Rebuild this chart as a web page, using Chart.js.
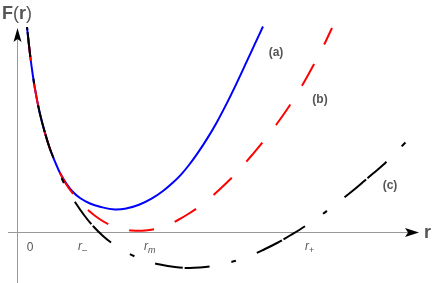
<!DOCTYPE html>
<html>
<head>
<meta charset="utf-8">
<title>F(r)</title>
<script src="https://cdn.jsdelivr.net/npm/chart.js@4.4.1/dist/chart.umd.min.js"></script>
<style>
html,body{margin:0;padding:0;background:#fff;}
#wrap{width:436px;height:283px;}
</style>
</head>
<body>
<div id="wrap"><canvas id="myChart" width="436" height="283"></canvas></div>
<script>
// curve values (r, F)
var rA = [10,13,16,19,23,28,33,39,43,49,55,63,73,83,98,110,122,135,146,156,164,172,181,190,200,210,220,230,238,246];
var fA = [205,178,155.5,137.5,118,99,83,68,59,49,41,34,28.5,25.2,22.5,23.7,27.2,33.6,41,49.4,57.4,67,79.4,93.1,110.1,129.1,149.6,171.1,188.3,205.5];

var rB = [10,13,16,19,23,28,33,39,43,49,55,63,71,81,92,103,115,128,140,151,161,172,183,193,203,213,223,235,247,259,271,283,293,304,315];
var fB = [205,178,155.5,137.5,118,99,83,68,59,48,39.5,30,22,14,7.5,3.5,1.5,1.5,3.5,7,12,18.5,26,34,43,52.5,63,77,91.5,107,124,143,160.5,181,204];

var rC = [10,13,16,19,23,28,33,39,45,51,58,67,76,86,96,106,118,131,143,158,171,183,196,208,223,235,246,260,273,283,295,305,315,326,336,346,356,366,376,386,395];
var fC = [205,178,155.5,137.5,118,99,83,68,53,41.5,30,17,6,-4,-12,-18.5,-24.5,-29.5,-32.5,-35,-36,-35.5,-34,-31.5,-27.5,-23,-18,-11,-3.5,2.5,10.5,17.5,25,33.5,41.5,50,58.5,67,77,87,96.5];

// tick labels under the r axis
var tickText = ['0', 'r-', 'rm', 'r+'];
var tickAt = [13, 66, 132, 293];
var curveNames = ['(a)', '(b)', '(c)'];
var namePos = [[259, 179], [303, 132], [373, 46]];

function pts(xs, ys){
  var out = [];
  for (var i = 0; i < xs.length; i++) out.push({x: xs[i], y: ys[i]});
  return out;
}

var axesPlugin = {
  id: 'axes',
  beforeDatasetsDraw: function(chart){
    var c = chart.ctx, xs = chart.scales.x, ys = chart.scales.y;
    var x0 = xs.getPixelForValue(0), y0 = ys.getPixelForValue(0);
    c.save();
    c.strokeStyle = '#999';
    c.lineWidth = 1;
    c.beginPath();
    c.moveTo(xs.getPixelForValue(-9), y0 + 0.5);
    c.lineTo(xs.getPixelForValue(395), y0 + 0.5);
    c.moveTo(x0 + 0.5, ys.getPixelForValue(-51));
    c.lineTo(x0 + 0.5, ys.getPixelForValue(196));
    c.stroke();
    c.fillStyle = '#000';
    // x arrow
    var tx = xs.getPixelForValue(402);
    c.beginPath();
    c.moveTo(tx, y0 + 0.5);
    c.lineTo(tx - 14, y0 + 0.5 - 4.5);
    c.lineTo(tx - 11, y0 + 0.5);
    c.lineTo(tx - 14, y0 + 0.5 + 4.5);
    c.closePath();
    c.fill();
    // y arrow
    var ty = ys.getPixelForValue(204);
    c.beginPath();
    c.moveTo(x0 + 0.5, ty);
    c.lineTo(x0 + 0.5 - 4, ty + 14);
    c.lineTo(x0 + 0.5, ty + 11);
    c.lineTo(x0 + 0.5 + 4, ty + 14);
    c.closePath();
    c.fill();
    c.restore();
  },
  afterDatasetsDraw: function(chart){
    var c = chart.ctx, xs = chart.scales.x, ys = chart.scales.y;
    var y0 = ys.getPixelForValue(0);
    c.save();
    c.fillStyle = '#555';
    c.textBaseline = 'alphabetic';
    // F(r)
    var x = 2, y = 19;
    c.font = 'bold 18px "Liberation Sans", Arial, sans-serif';
    c.fillText('F', x, y); x += c.measureText('F').width;
    c.font = '18px "Liberation Sans", Arial, sans-serif';
    c.fillText('(', x, y); x += c.measureText('(').width;
    c.font = 'bold 18px "Liberation Sans", Arial, sans-serif';
    c.fillText('r', x, y); x += c.measureText('r').width;
    c.font = '18px "Liberation Sans", Arial, sans-serif';
    c.fillText(')', x, y);
    // r
    c.font = 'bold 18px "Liberation Sans", Arial, sans-serif';
    c.fillText('r', 424, y0 + 6);
    // ticks
    for (var i = 0; i < tickText.length; i++) {
      var px = xs.getPixelForValue(tickAt[i]);
      var t = tickText[i];
      if (t === '0') {
        c.font = '12px "Liberation Sans", Arial, sans-serif';
        c.textAlign = 'center';
        c.fillText('0', px, y0 + 19);
        c.textAlign = 'left';
      } else {
        c.font = 'italic 12px "Liberation Sans", Arial, sans-serif';
        var w = c.measureText('r').width;
        c.fillText('r', px - 5, y0 + 18);
        var sub = t.charAt(1);
        if (sub === '-') sub = '\u2013';
        c.font = (sub === 'm' ? 'italic ' : '') + '9px "Liberation Sans", Arial, sans-serif';
        c.fillText(sub, px - 5 + w, y0 + 21);
      }
    }
    // curve names
    c.font = 'bold 12px "Liberation Sans", Arial, sans-serif';
    c.textAlign = 'center';
    c.textBaseline = 'middle';
    for (var k = 0; k < curveNames.length; k++) {
      c.fillText(curveNames[k], xs.getPixelForValue(namePos[k][0]), ys.getPixelForValue(namePos[k][1]));
    }
    c.restore();
  }
};

var ctx = document.getElementById('myChart');
var myChart = new Chart(ctx, {
  type: 'scatter',
  data: {
    datasets: [
      {label: '(c)', data: pts(rC, fC), showLine: true, borderColor: '#000', borderWidth: 2,
       borderDash: [28, 2, 25, 22, 5, 22], borderDashOffset: 25, pointRadius: 0,
       tension: 0.4, fill: false},
      {label: '(b)', data: pts(rB, fB), showLine: true, borderColor: '#f00', borderWidth: 2,
       borderDash: [25, 22], borderDashOffset: 38, pointRadius: 0,
       tension: 0.4, fill: false},
      {label: '(a)', data: pts(rA, fA), showLine: true, borderColor: '#00f', borderWidth: 2,
       pointRadius: 0, tension: 0.4, fill: false}
    ]
  },
  options: {
    responsive: false,
    animation: false,
    events: [],
    layout: {padding: 0},
    plugins: {legend: {display: false}, tooltip: {enabled: false}},
    scales: {
      x: {type: 'linear', min: -17, max: 419, display: false},
      y: {type: 'linear', min: -51, max: 232, display: false}
    }
  },
  plugins: [axesPlugin]
});
</script>
</body>
</html>
